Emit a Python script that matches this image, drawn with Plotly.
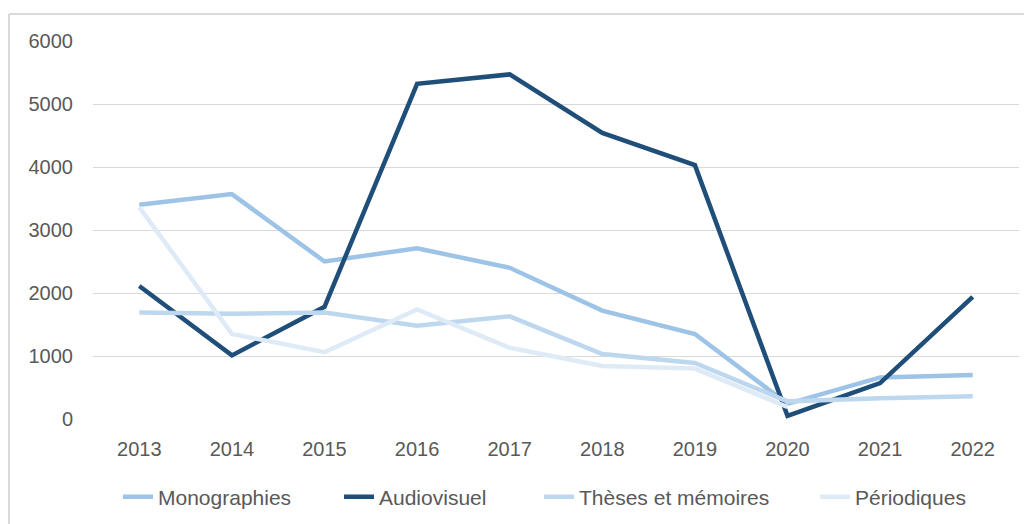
import plotly.graph_objects as go

years = ["2013", "2014", "2015", "2016", "2017", "2018", "2019", "2020", "2021", "2022"]
monographies = [3400, 3570, 2500, 2710, 2400, 1720, 1350, 240, 660, 700]
audiovisuel = [2110, 1010, 1780, 5320, 5470, 4540, 4030, 50, 570, 1940]
theses = [1690, 1670, 1690, 1480, 1630, 1030, 890, 280, 330, 360]
periodiques = [3360, 1350, 1060, 1740, 1130, 840, 800, 190, None, None]
y_ticks = [0, 1000, 2000, 3000, 4000, 5000, 6000]

series = [
    ("Monographies", monographies, "#9dc3e6"),
    ("Audiovisuel", audiovisuel, "#1f4e79"),
    ("Thèses et mémoires", theses, "#bdd7ee"),
    ("Périodiques", periodiques, "#deebf7"),
]

# page body has an 8px margin; the figure is laid out in its own coords
OFF = 8
W, H = 1032 - OFF, 524 - OFF
L, T = 93 - OFF, 41 - OFF
pw, ph = 926, 378
R = W - L - pw
B = H - T - ph

def px_x(p):
    return (p - OFF - L) / pw

def px_y(p):
    return (T + ph - (p - OFF)) / ph

font = dict(family="Liberation Sans, Arial, sans-serif", size=20, color="#595959")
legend_font = dict(family="Liberation Sans, Arial, sans-serif", size=21, color="#595959")

legend_text_x = [159, 380, 580, 856]
legend_names = ["legend", "legend2", "legend3", "legend4"]

fig = go.Figure()
for (name, vals, color), lg in zip(series, legend_names):
    fig.add_trace(go.Scatter(
        x=years, y=vals, mode="lines", name=name, legend=lg,
        line=dict(color=color, width=4.5), connectgaps=False,
    ))

legends = {}
for lg, tx in zip(legend_names, legend_text_x):
    legends[lg] = dict(
        orientation="h", xref="container", yref="container",
        x=(tx - OFF - 41) / W, xanchor="left",
        y=1 - (497 - OFF) / H, yanchor="middle",
        font=legend_font, bgcolor="rgba(0,0,0,0)",
    )

fig.update_layout(
    width=W, height=H,
    margin=dict(l=L, r=R, t=T, b=B),
    paper_bgcolor="white", plot_bgcolor="white",
    font=font,
    showlegend=True,
    xaxis=dict(
        type="category", range=[-0.5, 9.5], showgrid=False,
        showline=False, zeroline=False, ticks="",
        ticklabelstandoff=16, tickfont=font,
    ),
    yaxis=dict(
        range=[0, 6000], tickvals=y_ticks, showgrid=True,
        gridcolor="#d9d9d9", gridwidth=1.3, zeroline=False,
        showline=False, ticks="", ticklabelstandoff=19, tickfont=font,
    ),
    shapes=[
        dict(type="line", xref="paper", yref="paper",
             x0=px_x(9), x1=px_x(1032), y0=px_y(14), y1=px_y(14),
             line=dict(color="#d9d9d9", width=2)),
        dict(type="line", xref="paper", yref="paper",
             x0=px_x(9), x1=px_x(9), y0=px_y(14), y1=px_y(524),
             line=dict(color="#d9d9d9", width=2)),
    ],
    **legends,
)

fig.write_html("out.html")
